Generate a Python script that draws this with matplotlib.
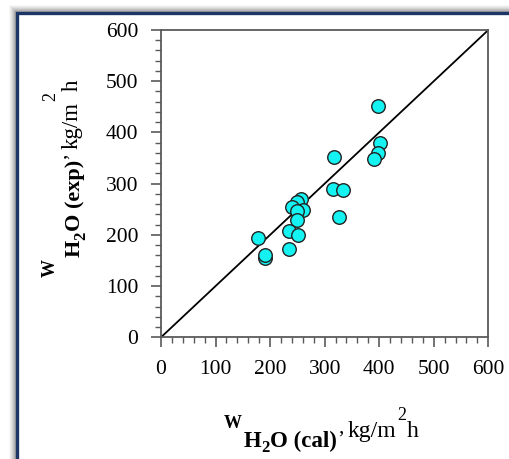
import matplotlib
matplotlib.use("Agg")
import matplotlib.pyplot as plt
from matplotlib.patches import Rectangle
from matplotlib.ticker import MultipleLocator
from matplotlib.transforms import IdentityTransform

plt.rcParams['font.family'] = ['Liberation Serif', 'DejaVu Serif']

w_cal = [397, 401, 397, 391, 318, 316, 334, 327, 256, 249, 240, 261, 250, 250, 235, 251, 178, 191, 191, 235]
w_exp = [452, 380, 359, 348, 353, 290, 287, 234, 271, 265, 255, 248, 247, 230, 208, 200, 193, 154, 160, 172]
line_x = [0, 600]
line_y = [0, 600]
ticks = [0, 100, 200, 300, 400, 500, 600]

W, H = 509, 459
fig = plt.figure(figsize=(W / 100, H / 100), dpi=100)
fig.patch.set_facecolor('white')

# shadow and frame
for i, a in enumerate([0.03, 0.04, 0.05, 0.06, 0.07, 0.08, 0.09]):
    off = 8 - i
    fig.add_artist(Rectangle(((17 - off) / W, -0.1), 1.2, (H - 13 + off) / H + 0.1,
                             transform=fig.transFigure, facecolor=(0, 0, 0, a),
                             edgecolor='none', zorder=0))
fig.add_artist(Rectangle((17 / W, -0.1), 1.2, (H - 13) / H + 0.1,
                         transform=fig.transFigure, facecolor='white',
                         edgecolor='#1c3566', linewidth=2.4, zorder=0.5))

ax = fig.add_axes([161 / W, 1 - 337.3 / H, (488.3 - 161) / W, (337.3 - 30) / H])
ax.set_zorder(2)
ax.plot(line_x, line_y, color='black', lw=1.3, zorder=2)
ax.scatter(w_cal, w_exp, s=95, facecolor='#14f2f2', edgecolor='#222222', linewidth=1.0, zorder=3)

ax.set_xlim(0, 600)
ax.set_ylim(0, 600)
ax.set_xticks(ticks)
ax.set_yticks(ticks)
ax.xaxis.set_minor_locator(MultipleLocator(20))
ax.yaxis.set_minor_locator(MultipleLocator(20))
for s in ax.spines.values():
    s.set_color('#5a5a5a')
    s.set_linewidth(1.3)
ax.tick_params(which='major', direction='out', length=7.5, width=1.2, color='#5a5a5a',
               labelsize=15.5, pad=9)
ax.tick_params(which='minor', direction='out', length=4.5, width=1.0, color='#5a5a5a')

renderer = fig.canvas.get_renderer()


def rich_label(pieces, start, base, rotated):
    """pieces: (text, size, weight, baseline offset px (down), gap before px)"""
    pos = start
    for txt, size, weight, off, gap in pieces:
        if not rotated:
            pos += gap
            t = fig.text(pos, H - (base + off), txt, fontsize=size, fontweight=weight,
                         ha='left', va='baseline', transform=IdentityTransform())
            pos += t.get_window_extent(renderer=renderer).width
        else:
            pos -= gap
            t = fig.text(base + off, H - pos, txt, fontsize=size, fontweight=weight,
                         ha='left', va='baseline', rotation=90, rotation_mode='anchor',
                         transform=IdentityTransform())
            pos -= t.get_window_extent(renderer=renderer).height


xl_pieces = [
    ('W', 13, 'bold', 0, 0),
    ('H', 16.5, 'bold', 19, 2),
    ('2', 12, 'bold', 24, 0),
    ('O (cal)', 16.5, 'bold', 19, 0),
    (',', 15, 'normal', 5, 1),
    ('kg/m', 17, 'normal', 9, 4),
    ('2', 13, 'normal', -8, 1),
    ('h', 17, 'normal', 9, 1),
]
rich_label(xl_pieces, 224, 428, False)

yl_pieces = [
    ('W', 13, 'bold', 0, 0),
    ('H', 16, 'bold', 25, 2),
    ('2', 12, 'bold', 30, 0),
    ('O (exp)', 16, 'bold', 25, 0),
    (',', 15, 'normal', 11, 1),
    ('kg/m', 16.5, 'normal', 23, 5),
    ('2', 13, 'normal', 0, 1),
    ('h', 16.5, 'normal', 23, 1),
]
rich_label(yl_pieces, 277, 55, True)

fig.savefig('out.png', dpi=100)
